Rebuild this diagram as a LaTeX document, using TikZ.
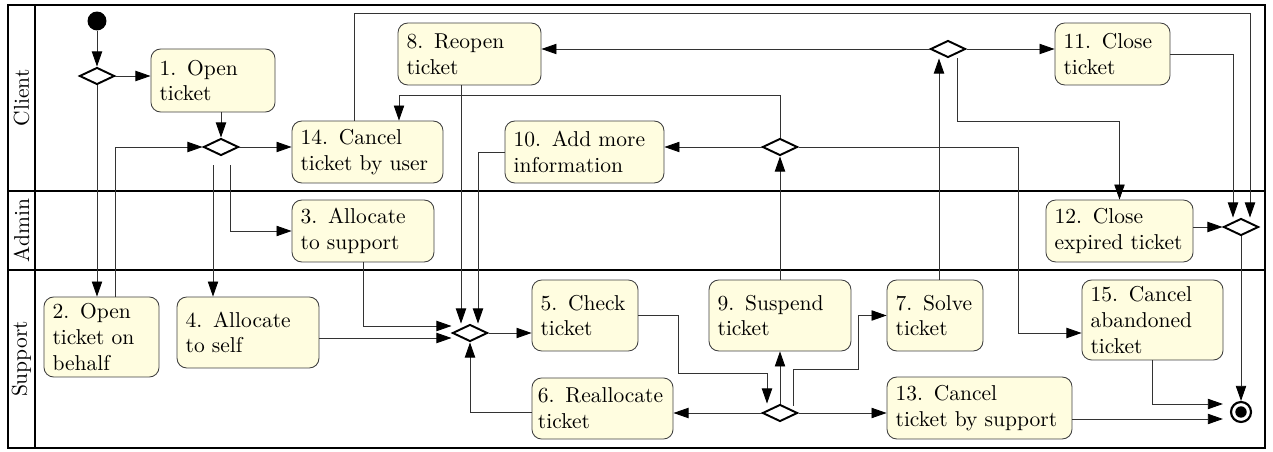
\documentclass[tikz,border=0pt]{standalone}
\usetikzlibrary{arrows.meta,shapes.geometric,calc}
\definecolor{actfill}{RGB}{255,253,224}
\begin{document}
\begin{tikzpicture}[x=0.465pt,y=-0.465pt,>={Triangle[length=7pt,width=4.8pt,black]}]
    \tikzstyle{act}=[draw=black!75,fill=actfill,rounded corners=4.5pt,align=left,inner xsep=4pt,inner ysep=2pt]
    \tikzstyle{dec}=[draw,diamond,line width=0.9pt,inner sep=0pt,minimum width=16.3pt,minimum height=7.9pt]
    \tikzstyle{lane}=[line width=1.2pt]
    \tikzstyle{flow}=[->,draw=black!80]

    \useasboundingbox (0,0) rectangle (1273,452);

    % swimlanes
    \draw[lane] (8,5) rectangle (1265,448);
    \draw[lane] (35,5) -- (35,448);
    \draw[lane] (8,191) -- (1265,191);
    \draw[lane] (8,270) -- (1265,270);
    \node[rotate=90] (client) at (21.5,98) {Client};
    \node[rotate=90] (admin) at (21.5,230.5) {Admin};
    \node[rotate=90] (support) at (21.5,359) {Support};

    % initial and final
    \node[circle,fill,minimum size=8.8pt,inner sep=0pt] (start) at (97,21) {};
    \node[circle,draw,line width=1pt,minimum size=9.3pt,inner sep=0pt] (stop) at (1241,412) {};
    \node[circle,fill,minimum size=5.3pt,inner sep=0pt] (stopdot) at (stop) {};

    % decisions
    \node[dec] (dstart) at (97,76) {};
    \node[dec] (dopen) at (221,147) {};
    \node[dec] (dinfo) at (780,147) {};
    \node[dec] (dsolve) at (948,49) {};
    \node[dec] (dend) at (1241,227) {};
    \node[dec] (dcheck) at (780,413) {};
    \node[dec] (dmerge) at (470,333) {};

    % activities
    \node[act,text width=49.7pt,minimum height=29.3pt] (open) at (213,80.5) {1. Open\\ticket};
    \node[act,text width=45.5pt,minimum height=37.2pt] (behalf) at (101.5,337) {2. Open\\ticket on\\behalf};
    \node[act,text width=58pt,minimum height=28.8pt] (allocsup) at (363,231) {3. Allocate\\to support};
    \node[act,text width=58pt,minimum height=33pt] (allocself) at (248,332.5) {4. Allocate\\to self};
    \node[act,text width=41.3pt,minimum height=33pt] (check) at (585,315.5) {5. Check\\ticket};
    \node[act,text width=60pt,inner xsep=2.8pt,minimum height=28.4pt] (realloc) at (602.5,408.5) {\mbox{6. Reallocate}\\ticket};
    \node[act,text width=36.6pt,minimum height=33pt] (solve) at (935,315.5) {7. Solve\\ticket};
    \node[act,text width=58.5pt,minimum height=28.8pt] (reopen) at (469.5,54) {8. Reopen\\ticket};
    \node[act,text width=58pt,minimum height=33pt] (suspend) at (780,315.5) {9. Suspend\\ticket};
    \node[act,text width=65.9pt,minimum height=28.8pt] (addinfo) at (584.5,152) {10. Add more\\information};
    \node[act,text width=45.5pt,minimum height=28.8pt] (close) at (1112.5,54) {11. Close\\ticket};
    \node[act,text width=60.4pt,minimum height=28.8pt] (expired) at (1119.5,231) {12. Close\\expired ticket};
    \node[act,text width=78pt,minimum height=28.8pt] (cancelsup) at (979.5,408) {13. Cancel\\ticket by support};
    \node[act,text width=62.2pt,minimum height=28.8pt] (canceluser) at (367.5,152) {14. Cancel\\ticket by user};
    \node[act,text width=57.6pt,minimum height=37.2pt] (abandoned) at (1152.5,320) {15. Cancel\\abandoned\\ticket};

    % flows
    \draw[flow] (start) -- (dstart);
    \draw[flow] (dstart.east) -- (dstart.east -| open.west);
    \draw[flow] (dstart.south) -- (dstart.south |- behalf.north);
    \draw[flow] (dopen |- open.south) -- (dopen.north);
    \draw[flow] ($(behalf.north)+(13.5,0)$) |- (dopen.west);
    \draw[flow] (dopen.east) -- (dopen.east -| canceluser.west);
    \coordinate (dopenl) at ($(dopen.south)+(-8,9)$);
    \coordinate (dopenr) at ($(dopen.south)+(9,9)$);
    \draw[flow] (dopenl) -- (dopenl |- allocself.north);
    \draw[flow] (dopenr) |- (allocsup.west);

    \draw[flow] ($(canceluser.north)+(-13.5,0)$) -- ++(0,-107) -| ($(dend.north)+(9,0)$);
    \draw[flow] (close.east) -| ($(dend.north)+(-8,0)$);
    \draw[flow] (expired.east |- dend.west) -- (dend.west);
    \draw[flow] (dend.south) -- (stop.north);
    \draw[flow] (abandoned.south) |- ($(stop.west)+(-7,-8)$);
    \draw[flow] ($(cancelsup.east)+(0,11)$) -- ($(stop.west)+(-7,7)$);

    \draw[flow] ($(reopen.south)+(-8.5,0)$) -- ($(dmerge.north)+(-9,0)$);
    \draw[flow] (addinfo.west) -| ($(dmerge.north)+(8,0)$);
    \draw[flow] (allocsup.south) |- ($(dmerge.west)+(0,-7)$);
    \draw[flow] ($(allocself.east)+(0,5.5)$) -- ($(dmerge.west)+(0,5)$);
    \draw[flow] ($(realloc.west)+(0,3.5)$) -| (dmerge.south);
    \draw[flow] (dmerge.east) -- (dmerge.east -| check.west);

    \draw[flow] (check.east) -- ++(40,0) -- ++(0,58) -| ($(dcheck.north)+(-13,0)$);
    \draw[flow] (dcheck.north) -- (suspend.south);
    \draw[flow] ($(dcheck.north)+(13,2)$) -- ++(0,-36) -- ++(65,0) |- (solve.west);
    \draw[flow] (dcheck.west) -- (dcheck.west -| realloc.east);
    \draw[flow] (dcheck.east) -- (dcheck.east -| cancelsup.west);

    \draw[flow] (suspend.north) -- (dinfo.south);
    \draw[flow] (dinfo.west) -- (dinfo.west -| addinfo.east);
    \draw[flow] (dinfo.north) -- ++(0,-42) -| ($(canceluser.north)+(31.5,0)$);
    \draw[flow] (dinfo.east) -| ($(abandoned.west)+(-63,13)$) -- ($(abandoned.west)+(0,13)$);

    \draw[flow] ($(solve.north)+(4,0)$) -- ($(dsolve.south)+(-9,0)$);
    \draw[flow] (dsolve.west) -- (dsolve.west -| reopen.east);
    \draw[flow] (dsolve.east) -- (dsolve.east -| close.west);
    \draw[flow] ($(dsolve.south)+(9,0)$) -- ++(0,62.5) -| (expired.north);
\end{tikzpicture}
\end{document}
